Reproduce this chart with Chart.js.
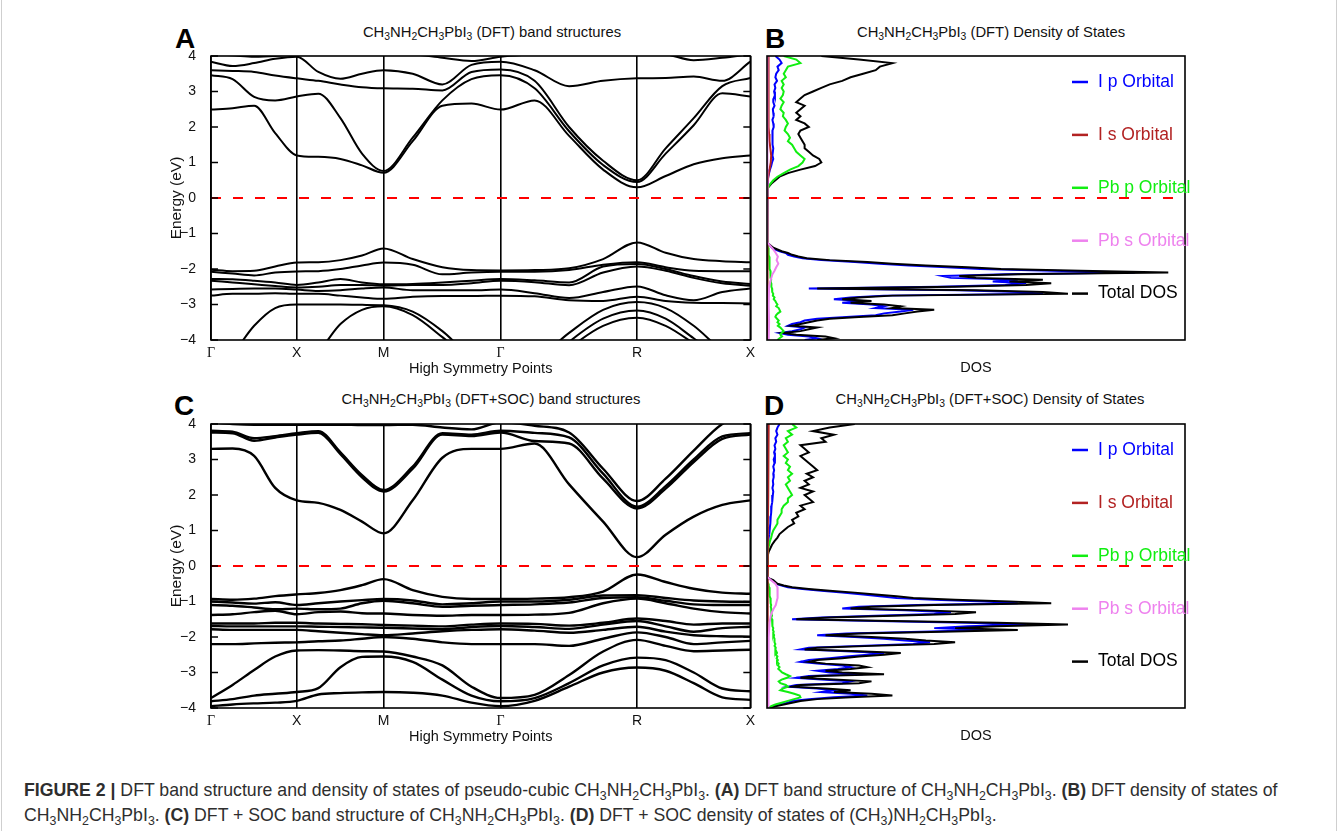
<!DOCTYPE html>
<html>
<head>
<meta charset="utf-8">
<script src="https://cdn.jsdelivr.net/npm/chart.js@4/dist/chart.umd.min.js"></script>
<style>
  body { margin: 0; background: #fff; font-family: "Liberation Sans", Arial, sans-serif; }
  #page { position: relative; width: 1344px; height: 831px; overflow: hidden; background: #fff; }
  #edgeL, #edgeR { position: absolute; top: 0; width: 1px; height: 831px; background: #cfcfcf; }
  canvas { position: absolute; }
  .ttl { position: absolute; font-size: 14.8px; line-height: 16px; color: #111; white-space: nowrap; transform: translateX(-50%); }
  .ttl sub, .cap sub { font-size: 70%; vertical-align: -0.3em; line-height: 0; }
  .lett { position: absolute; font-weight: bold; font-size: 28px; line-height: 28px; color: #000; }
  .cap { position: absolute; left: 24px; font-size: 17.7px; line-height: 20px; color: #2e2e2e; white-space: nowrap; }
</style>
</head>
<body>
<div id="page">
  <div id="edgeL" style="left:1px"></div>
  <div id="edgeR" style="left:1336px"></div>
  <div class="lett" style="left:175px;top:25px">A</div>
  <div class="lett" style="left:765px;top:25px">B</div>
  <div class="lett" style="left:174px;top:392px">C</div>
  <div class="lett" style="left:764px;top:392px">D</div>

  <div class="ttl" style="left:492px;top:24px">CH<sub>3</sub>NH<sub>2</sub>CH<sub>3</sub>PbI<sub>3</sub> (DFT) band structures</div>
  <div class="ttl" style="left:991px;top:24px">CH<sub>3</sub>NH<sub>2</sub>CH<sub>3</sub>PbI<sub>3</sub> (DFT) Density of States</div>
  <div class="ttl" style="left:491px;top:391px">CH<sub>3</sub>NH<sub>2</sub>CH<sub>3</sub>PbI<sub>3</sub> (DFT+SOC) band structures</div>
  <div class="ttl" style="left:990px;top:391px">CH<sub>3</sub>NH<sub>2</sub>CH<sub>3</sub>PbI<sub>3</sub> (DFT+SOC) Density of States</div>

  <canvas id="bandA" width="610" height="345" style="left:150px;top:40px"></canvas>
  <canvas id="dosB" width="430" height="345" style="left:760px;top:40px"></canvas>
  <canvas id="bandC" width="610" height="345" style="left:150px;top:408px"></canvas>
  <canvas id="dosD" width="430" height="345" style="left:760px;top:408px"></canvas>

  <div class="cap" style="top:780px"><b>FIGURE 2 |</b> DFT band structure and density of states of pseudo-cubic CH<sub>3</sub>NH<sub>2</sub>CH<sub>3</sub>PbI<sub>3</sub>. <b>(A)</b> DFT band structure of CH<sub>3</sub>NH<sub>2</sub>CH<sub>3</sub>PbI<sub>3</sub>. <b>(B)</b> DFT density of states of</div>
  <div class="cap" style="top:805px">CH<sub>3</sub>NH<sub>2</sub>CH<sub>3</sub>PbI<sub>3</sub>. <b>(C)</b> DFT + SOC band structure of CH<sub>3</sub>NH<sub>2</sub>CH<sub>3</sub>PbI<sub>3</sub>. <b>(D)</b> DFT + SOC density of states of (CH<sub>3</sub>)NH<sub>2</sub>CH<sub>3</sub>PbI<sub>3</sub>.</div>
</div>

<script>
// k-path sampling (fraction of the path) and high symmetry points
const kPath = [0, 0.040, 0.080, 0.119, 0.159, 0.199, 0.240, 0.280, 0.320, 0.374, 0.429, 0.483, 0.537, 0.600, 0.664, 0.727, 0.790, 0.843, 0.895, 0.948, 1.000];
const symPos = [0, 0.159, 0.320, 0.537, 0.790, 1.0];
const symLabels = ['Γ', 'X', 'M', 'Γ', 'R', 'X'];
const energyTicks = [-4, -3, -2, -1, 0, 1, 2, 3, 4];

// DFT bands (eV), panel A
const dftCB1 = [2.49, 2.53, 2.60, 1.83, 1.20, 1.16, 1.10, 0.92, 0.71, 1.60, 2.60, 2.66, 2.49, 2.75, 1.75, 0.80, 0.30, 0.62, 0.95, 1.12, 1.20];
const dftCB2 = [3.46, 3.35, 2.85, 2.75, 2.86, 2.94, 2.25, 1.25, 0.76, 1.70, 2.75, 3.35, 3.46, 3.09, 1.88, 0.93, 0.45, 1.25, 2.05, 2.95, 2.86];
const dftCB3 = [3.60, 3.58, 3.55, 3.45, 3.37, 3.30, 3.20, 3.12, 3.09, 3.08, 3.03, 3.55, 3.62, 3.30, 2.00, 1.05, 0.50, 1.40, 2.25, 3.15, 3.38];
const dftCB4 = [3.84, 3.72, 3.80, 3.92, 3.98, 3.55, 3.36, 3.50, 3.60, 3.50, 3.20, 3.75, 3.84, 3.60, 3.15, 3.30, 3.37, 3.38, 3.42, 3.30, 3.84];
const dftCB5 = [4.05, 4.02, 3.98, 4.00, 4.05, 4.10, 4.10, 4.10, 4.10, 4.05, 3.95, 3.86, 3.98, 4.05, 4.10, 4.10, 4.10, 4.05, 3.88, 3.95, 4.05];
const dftVB1 = [-2.02, -2.06, -2.05, -1.93, -1.82, -1.81, -1.75, -1.62, -1.42, -1.72, -1.95, -2.03, -2.04, -2.03, -1.98, -1.72, -1.25, -1.54, -1.72, -1.78, -1.81];
const dftVB2 = [-2.08, -2.13, -2.18, -2.10, -2.07, -2.06, -2.00, -1.90, -1.82, -1.88, -2.15, -2.10, -2.08, -2.08, -2.03, -1.88, -1.81, -1.95, -2.05, -2.06, -2.06];
const dftVB3 = [-2.28, -2.29, -2.33, -2.38, -2.45, -2.38, -2.28, -2.38, -2.43, -2.42, -2.38, -2.33, -2.28, -2.32, -2.38, -1.93, -1.86, -2.00, -2.20, -2.35, -2.42];
const dftVB4 = [-2.33, -2.38, -2.43, -2.48, -2.52, -2.50, -2.45, -2.45, -2.47, -2.45, -2.45, -2.40, -2.33, -2.37, -2.46, -2.10, -1.93, -2.05, -2.25, -2.40, -2.47];
const dftVB5 = [-2.58, -2.56, -2.55, -2.55, -2.58, -2.62, -2.60, -2.55, -2.52, -2.60, -2.60, -2.60, -2.58, -2.68, -2.82, -2.65, -2.49, -2.74, -2.88, -2.65, -2.55];
const dftVB6 = [-2.75, -2.70, -2.70, -2.68, -2.70, -2.70, -2.75, -2.80, -2.84, -2.78, -2.76, -2.76, -2.75, -2.77, -2.88, -2.90, -2.78, -2.90, -2.95, -2.96, -2.97];
const dftVB7 = [-5.00, -4.40, -3.60, -3.10, -3.00, -3.00, -3.00, -3.01, -3.02, -3.20, -3.75, -4.50, -5.00, -4.60, -3.80, -3.15, -2.93, -3.10, -3.60, -4.30, -4.80];
const dftVB8 = [-6.00, -5.60, -5.20, -4.80, -4.50, -4.30, -3.55, -3.15, -3.05, -3.30, -3.92, -4.60, -5.50, -4.90, -4.05, -3.40, -3.17, -3.40, -3.95, -4.50, -5.00];
const dftVB9 = [-6.50, -6.30, -6.00, -5.80, -5.60, -5.50, -5.20, -4.90, -4.80, -5.00, -5.30, -5.60, -6.00, -5.20, -4.25, -3.60, -3.37, -3.60, -4.10, -4.70, -5.20];

// DFT+SOC bands (eV), panel C
const socCB1 = [3.30, 3.31, 3.10, 2.20, 1.85, 1.78, 1.58, 1.25, 0.92, 1.85, 3.05, 3.30, 3.30, 3.45, 2.30, 1.25, 0.25, 0.88, 1.39, 1.72, 1.85];
const socCB2 = [3.76, 3.74, 3.53, 3.62, 3.70, 3.75, 3.15, 2.50, 2.10, 2.74, 3.70, 3.66, 3.76, 3.52, 3.45, 2.46, 1.62, 2.18, 2.93, 3.58, 3.70];
const socCB3 = [3.81, 3.78, 3.60, 3.66, 3.74, 3.80, 3.20, 2.56, 2.14, 2.80, 3.74, 3.70, 3.81, 3.75, 3.62, 2.60, 1.67, 2.25, 3.00, 3.65, 3.74];
const socCB4 = [4.05, 4.00, 3.98, 3.98, 3.98, 3.98, 3.98, 3.97, 3.97, 3.98, 3.90, 3.85, 4.05, 3.95, 3.76, 2.74, 1.83, 2.46, 3.25, 4.00, 4.30];
const socVB1 = [-0.93, -0.95, -0.92, -0.85, -0.80, -0.76, -0.68, -0.54, -0.37, -0.68, -0.87, -0.93, -0.93, -0.92, -0.88, -0.72, -0.24, -0.45, -0.64, -0.75, -0.78];
const socVB2 = [-1.00, -1.03, -1.06, -1.02, -1.10, -1.05, -1.00, -0.96, -0.93, -0.97, -1.08, -1.05, -1.00, -1.00, -0.95, -0.83, -0.82, -0.90, -0.97, -1.00, -1.01];
const socVB3 = [-1.10, -1.12, -1.17, -1.22, -1.20, -1.22, -1.20, -1.05, -0.98, -1.05, -1.15, -1.12, -1.10, -1.08, -1.03, -0.90, -0.88, -0.98, -1.08, -1.10, -1.10];
const socVB4 = [-1.38, -1.36, -1.30, -1.26, -1.36, -1.30, -1.28, -1.33, -1.34, -1.38, -1.40, -1.38, -1.38, -1.37, -1.32, -1.05, -0.92, -1.05, -1.20, -1.30, -1.34];
const socVB5 = [-1.62, -1.62, -1.62, -1.60, -1.60, -1.62, -1.63, -1.64, -1.66, -1.68, -1.70, -1.65, -1.62, -1.63, -1.68, -1.60, -1.48, -1.55, -1.65, -1.62, -1.62];
const socVB6 = [-1.69, -1.70, -1.70, -1.70, -1.70, -1.71, -1.72, -1.73, -1.74, -1.76, -1.78, -1.72, -1.69, -1.72, -1.77, -1.65, -1.55, -1.70, -1.85, -1.75, -1.71];
const socVB7 = [-1.78, -1.80, -1.80, -1.80, -1.80, -1.84, -1.88, -1.92, -1.95, -1.90, -1.84, -1.80, -1.78, -1.82, -1.88, -1.80, -1.71, -1.85, -1.95, -1.98, -1.99];
const socVB8 = [-2.20, -2.20, -2.18, -2.16, -2.15, -2.12, -2.10, -2.05, -2.00, -2.05, -2.15, -2.20, -2.20, -2.20, -2.25, -2.05, -1.87, -2.00, -2.20, -2.15, -2.11];
const socVB9 = [-3.72, -3.35, -2.93, -2.55, -2.38, -2.37, -2.38, -2.40, -2.41, -2.55, -2.80, -3.40, -3.72, -3.63, -3.07, -2.41, -2.08, -2.25, -2.40, -2.38, -2.36];
const socVB10 = [-3.81, -3.75, -3.65, -3.60, -3.55, -3.44, -2.85, -2.56, -2.55, -2.70, -3.20, -3.65, -3.81, -3.72, -3.30, -2.80, -2.58, -2.65, -3.00, -3.45, -3.53];
const socVB11 = [-3.95, -3.90, -3.87, -3.85, -3.80, -3.62, -3.58, -3.56, -3.55, -3.57, -3.65, -3.85, -3.95, -3.80, -3.40, -3.00, -2.86, -2.95, -3.30, -3.70, -3.77];

// DFT density of states, panel B (energy grid in eV, DOS in arbitrary units)
const dftDosE = [4.0, 3.9, 3.8, 3.7, 3.6, 3.5, 3.4, 3.3, 3.2, 3.1, 3.0, 2.9, 2.8, 2.7, 2.6, 2.5, 2.4, 2.3, 2.2, 2.1,
  2.0, 1.9, 1.8, 1.7, 1.6, 1.5, 1.4, 1.3, 1.2, 1.1, 1.0, 0.9, 0.8, 0.7, 0.6, 0.5, 0.4, 0.3, 0.2,
  -0.5,
  -1.20, -1.25, -1.30, -1.35, -1.40, -1.45, -1.50, -1.55, -1.60, -1.65, -1.70, -1.75, -1.80, -1.85, -1.90, -1.95,
  -2.00, -2.05, -2.10, -2.15, -2.20, -2.25, -2.30, -2.35, -2.40, -2.45, -2.50, -2.55, -2.60, -2.65, -2.70, -2.75,
  -2.80, -2.85, -2.90, -2.95, -3.00, -3.05, -3.10, -3.15, -3.20, -3.25, -3.30, -3.35, -3.40, -3.45, -3.50, -3.55,
  -3.60, -3.65, -3.70, -3.75, -3.80, -3.85, -3.90, -3.95, -4.00];
const dftTotal = [13, 22, 30, 27, 26, 23, 20, 18, 15, 13, 11, 9, 8, 7, 9, 8, 7, 8, 7, 9,
  10, 8, 7.5, 8, 8.5, 9, 9, 10, 11, 12.5, 13, 11.5, 8, 5, 3, 2, 1, 0.3, 0,
  0,
  0, 0.2, 0.5, 1, 1.5, 2.5, 3.5, 5, 6, 7.5, 9.5, 15, 24, 30, 38, 48,
  56, 75, 96, 60, 46, 50, 66, 58, 68, 62, 45, 12, 50, 66, 72, 30,
  22, 18, 25, 20, 28, 32, 30, 40, 36, 33, 30, 22, 15, 12, 10, 8,
  6, 12, 10, 8, 4, 7, 14, 16, 12];
const dftIp = [2, 3, 3.5, 2.5, 2.8, 2.2, 2, 2.4, 1.8, 2, 1.7, 1.9, 1.6, 1.5, 1.8, 1.4, 1.5, 1.6, 1.3, 1.5,
  1.6, 1.3, 1.4, 1.2, 1.4, 1.3, 1.5, 1.4, 1.3, 1.5, 1.2, 1, 0.7, 0.5, 0.3, 0.2, 0.1, 0, 0,
  0,
  0, 0.2, 0.4, 0.8, 1.2, 2, 3, 4.5, 5, 6.5, 8.5, 13, 21, 27, 34, 43,
  51, 68, 88, 57, 42, 44, 60, 54, 62, 57, 41, 10, 46, 60, 66, 28,
  20, 16, 23, 18, 25, 28, 26, 35, 32, 28, 26, 19, 12, 9, 8, 6,
  5, 9, 8, 6, 3, 5, 10, 12, 9];
const dftPbp = [4, 7, 8, 5, 4.5, 4, 4.5, 3.5, 4, 3.5, 4, 3.8, 3.2, 4, 3.5, 3.2, 4, 3.8, 4.5, 5,
  4.5, 4.2, 5, 5.5, 5, 6, 6.5, 7, 8, 9, 8.5, 7.5, 5.5, 4, 2.5, 1.5, 0.8, 0.3, 0,
  0,
  0, 0.1, 0.2, 0.2, 0.3, 0.3, 0.4, 0.4, 0.4, 0.5, 0.5, 0.5, 0.6, 0.6, 0.6, 0.7,
  0.7, 0.8, 0.8, 0.8, 0.9, 0.9, 1, 0.9, 1, 1.1, 1, 1.2, 1.3, 1.2, 1.5, 1.4,
  1.8, 1.6, 2, 2.2, 2.5, 2.2, 2.8, 3, 3.2, 2.6, 2.2, 2, 2.4, 2.8, 2.5, 3,
  2.6, 3.2, 3.6, 4, 3.5, 3.2, 3.6, 3, 2.5];
const dftIsE = [4.0, 3.5, 3.0, 2.5, 2.0, 1.8, 1.6, 1.4, 1.2, 1.0, 0.8, 0.6, 0.4, 0.2, -1.2, -2.0, -3.0, -4.0];
const dftIs = [0.3, 0.4, 0.3, 0.4, 0.4, 0.5, 0.6, 0.8, 1.0, 0.9, 0.6, 0.3, 0.1, 0, 0, 0.2, 0.2, 0.2];
const dftPbsE = [4.0, 0.2, -1.25, -1.35, -1.45, -1.55, -1.65, -1.75, -1.85, -1.95, -2.05, -2.15, -2.3, -2.5, -3.0, -3.5, -4.0];
const dftPbs = [0, 0, 0.2, 0.8, 1.5, 2.1, 2.6, 2.3, 2.7, 2.2, 1.8, 1.3, 0.9, 0.5, 0.4, 0.5, 0.4];

// DFT+SOC density of states, panel D
const socDosE = [4.0, 3.9, 3.8, 3.7, 3.6, 3.5, 3.4, 3.3, 3.2, 3.1, 3.0, 2.9, 2.8, 2.7, 2.6, 2.5, 2.4, 2.3, 2.2, 2.1,
  2.0, 1.9, 1.8, 1.7, 1.6, 1.5, 1.4, 1.3, 1.2, 1.1, 1.0, 0.9, 0.8, 0.7, 0.6, 0.5, 0.4, 0.3, 0.2, 0.1, 0.0,
  -0.30, -0.35, -0.40, -0.45, -0.50, -0.55, -0.60, -0.65, -0.70, -0.75, -0.80, -0.85, -0.90, -0.95, -1.00,
  -1.05, -1.10, -1.15, -1.20, -1.25, -1.30, -1.35, -1.40, -1.45, -1.50, -1.55, -1.60, -1.65, -1.70, -1.75,
  -1.80, -1.85, -1.90, -1.95, -2.00, -2.05, -2.10, -2.15, -2.20, -2.25, -2.30, -2.35, -2.40, -2.45, -2.50,
  -2.55, -2.60, -2.65, -2.70, -2.75, -2.80, -2.85, -2.90, -2.95, -3.00, -3.05, -3.10, -3.15, -3.20, -3.25,
  -3.30, -3.35, -3.40, -3.45, -3.50, -3.55, -3.60, -3.65, -3.70, -3.75, -3.80, -3.85, -3.90, -3.95, -4.00];
const socTotal = [21, 15, 11, 16, 13, 14, 8, 9, 10, 8, 9, 10, 11, 12, 9.5, 11, 9, 10, 8, 11,
  9, 10, 11, 8, 9, 7, 7.5, 6, 6.5, 5, 4, 3, 2.5, 1.8, 1.2, 0.8, 0.4, 0.2, 0.1, 0, 0,
  0, 0.5, 1.5, 2, 2.5, 4, 6, 10, 15, 21, 26, 31, 35, 45, 58,
  68, 40, 25, 20, 38, 50, 45, 30, 15, 7, 30, 55, 72, 55, 45,
  60, 42, 22, 14, 25, 33, 38, 45, 40, 25, 12, 9, 22, 32, 28,
  22, 18, 12, 10, 14, 22, 24, 20, 14, 18, 28, 12, 8, 16, 25,
  22, 8, 6, 14, 20, 16, 25, 30, 20, 12, 8, 6, 4, 2, 0.5];
const socIp = [3, 2.5, 2.2, 2.5, 2, 2.2, 1.8, 2, 1.7, 1.9, 1.6, 1.8, 1.5, 1.7, 1.5, 1.6, 1.4, 1.5, 1.3, 1.5,
  1.4, 1.3, 1.2, 1.1, 1, 1, 0.9, 0.8, 0.8, 0.7, 0.6, 0.5, 0.4, 0.3, 0.2, 0.2, 0.1, 0.1, 0, 0, 0,
  0, 0.4, 1.2, 1.7, 2.2, 3.5, 5, 8.5, 13, 18, 23, 27, 31, 40, 52,
  60, 36, 22, 18, 33, 44, 40, 26, 13, 6, 26, 48, 62, 48, 40,
  52, 37, 19, 12, 21, 28, 33, 39, 35, 22, 10, 8, 19, 28, 24,
  19, 15, 10, 8, 12, 18, 20, 17, 12, 15, 23, 10, 7, 13, 20,
  18, 7, 5, 12, 16, 13, 20, 24, 16, 10, 6, 5, 3, 1.5, 0.3];
const socPbp = [6, 7, 5, 6, 4.5, 5, 4, 4.5, 5, 4, 5, 4.5, 5.5, 5, 6, 5, 5.5, 4.5, 5, 5.5,
  6, 5, 5, 4, 3.5, 3.5, 3, 2.5, 2.5, 2, 1.5, 1.2, 1, 0.7, 0.5, 0.3, 0.2, 0.1, 0, 0, 0,
  0, 0, 0.1, 0.2, 0.3, 0.4, 0.5, 0.5, 0.6, 0.6, 0.7, 0.7, 0.8, 0.8, 0.9,
  0.9, 1, 0.9, 1, 1.1, 1, 1.1, 1.2, 1, 1.2, 1.3, 1.2, 1.4, 1.3, 1.5,
  1.4, 1.6, 1.5, 1.7, 1.6, 1.8, 1.7, 1.9, 2, 1.8, 2.1, 2, 2.2, 2.4, 2.1,
  2.5, 2.3, 2.6, 2.4, 2.8, 2.6, 3, 2.7, 3.2, 3.6, 4.5, 5.5, 4.8, 3.5, 2.8,
  3.2, 4.5, 5, 3.8, 3.2, 5, 6.5, 7.8, 8, 6.5, 5, 3.5, 2, 1, 0.3];
const socIsE = [4.0, 3.0, 2.0, 1.0, 0.5, 0.0, -0.5, -2.0, -4.0];
const socIs = [0.4, 0.3, 0.3, 0.2, 0.1, 0, 0.1, 0.2, 0.2];
const socPbsE = [4.0, -0.3, -0.4, -0.5, -0.6, -0.7, -0.8, -0.9, -1.0, -1.1, -1.2, -1.3, -1.4, -1.6, -2.0, -3.0, -4.0];
const socPbs = [0, 0, 1, 2, 2.5, 2.6, 2.4, 2.6, 2.3, 2.1, 1.6, 1.2, 0.9, 0.6, 0.4, 0.4, 0.3];

const dftBands = [dftCB1, dftCB2, dftCB3, dftCB4, dftCB5, dftVB1, dftVB2, dftVB3, dftVB4, dftVB5, dftVB6, dftVB7, dftVB8, dftVB9];
const socBands = [socCB1, socCB2, socCB3, socCB4, socVB1, socVB2, socVB3, socVB4, socVB5, socVB6, socVB7, socVB8, socVB9, socVB10, socVB11];

const FONT = '"Liberation Sans", Arial, sans-serif';
Chart.defaults.font.family = FONT;
Chart.defaults.color = '#111';

// box around the plot + inward tics on the energy axis
const frame = {
  id: 'frame',
  afterDatasetsDraw(chart, args, opts) {
    const { ctx, chartArea: a } = chart;
    ctx.save();
    ctx.strokeStyle = '#000';
    ctx.lineWidth = 1.6;
    ctx.strokeRect(a.left, a.top, a.right - a.left, a.bottom - a.top);
    if (opts.tics) {
      const y = chart.scales.y;
      energyTicks.forEach(v => {
        const py = y.getPixelForValue(v);
        ctx.beginPath();
        ctx.moveTo(a.left, py); ctx.lineTo(a.left + 7, py);
        ctx.moveTo(a.right, py); ctx.lineTo(a.right - 7, py);
        ctx.stroke();
      });
    }
    ctx.restore();
  }
};

// gnuplot-like key inside the DOS panels
const dosKey = {
  id: 'dosKey',
  afterDatasetsDraw(chart) {
    const { ctx, chartArea: a } = chart;
    ctx.save();
    ctx.font = '17.5px ' + FONT;
    ctx.textBaseline = 'middle';
    ctx.lineWidth = 2.5;
    let i = 0;
    chart.data.datasets.forEach(ds => {
      if (!ds.label) return;
      const y = a.top + 26 + i * 52.9;
      ctx.strokeStyle = ds.borderColor;
      ctx.beginPath();
      ctx.moveTo(a.right - 113, y);
      ctx.lineTo(a.right - 97, y);
      ctx.stroke();
      ctx.fillStyle = ds.borderColor;
      ctx.fillText(ds.label, a.right - 87, y);
      i++;
    });
    ctx.restore();
  }
};

const zeroLine = (x0, x1) => ({
  data: [{ x: x0, y: 0 }, { x: x1, y: 0 }],
  borderColor: '#ff0000', borderWidth: 2, borderDash: [10, 12], pointRadius: 0, order: 0
});

function bandChart(id, bands, lw) {
  const datasets = bands.map(b => ({
    data: b.map((e, i) => ({ x: kPath[i], y: e })),
    borderColor: '#000', borderWidth: lw, pointRadius: 0,
    cubicInterpolationMode: 'monotone', order: 1
  }));
  datasets.push(zeroLine(0, 1));
  new Chart(document.getElementById(id), {
    type: 'line',
    data: { datasets },
    options: {
      responsive: false, animation: false, events: [],
      layout: { padding: { top: 16, right: 9, left: 0, bottom: 0 } },
      plugins: { legend: { display: false }, tooltip: { enabled: false }, frame: { tics: true } },
      scales: {
        x: {
          type: 'linear', min: 0, max: 1,
          afterBuildTicks: s => { s.ticks = symPos.map(v => ({ value: v })); },
          afterFit: s => { s.height = 45; },
          ticks: {
            autoSkip: false, maxRotation: 0, padding: 5, color: '#111',
            callback: (v, i) => symLabels[i],
            font: c => ({ family: symLabels[c.index] === 'Γ' ? '"Liberation Serif", serif' : FONT, size: 14 })
          },
          grid: { color: '#000', lineWidth: 1.6, drawTicks: false },
          border: { display: false },
          title: { display: true, text: 'High Symmetry Points', font: { size: 14.5 }, padding: { bottom: 7 }, color: '#111' }
        },
        y: {
          min: -4, max: 4,
          afterBuildTicks: s => { s.ticks = energyTicks.map(v => ({ value: v })); },
          afterFit: s => { s.width = 61; },
          ticks: {
            padding: 7, font: { size: 14 }, color: '#111',
            callback: v => (v < 0 ? '\u2212' + Math.abs(v) : String(v))
          },
          grid: { display: false },
          border: { display: false },
          title: { display: true, text: 'Energy (eV)', font: { size: 15.5 }, padding: { top: 17 }, color: '#111' }
        }
      }
    },
    plugins: [frame]
  });
}

function curve(label, color, es, vals, order) {
  return {
    label, order,
    data: vals.map((v, i) => ({ x: v, y: es[i] })),
    borderColor: color, borderWidth: 2, pointRadius: 0, tension: 0
  };
}

function dosChart(id, series) {
  const datasets = series.slice();
  datasets.push(zeroLine(0, 100));
  new Chart(document.getElementById(id), {
    type: 'line',
    data: { datasets },
    options: {
      responsive: false, animation: false, events: [],
      indexAxis: 'y',
      layout: { padding: { top: 16, right: 5, left: 7, bottom: 0 } },
      plugins: { legend: { display: false }, tooltip: { enabled: false }, frame: { tics: false } },
      scales: {
        x: {
          type: 'linear', min: 0, max: 100,
          afterFit: s => { s.height = 45; },
          ticks: { display: false },
          grid: { display: false },
          border: { display: false },
          title: { display: true, text: 'DOS', font: { size: 14.5 }, padding: { bottom: 8 }, color: '#111' }
        },
        y: { type: 'linear', min: -4, max: 4, display: false }
      }
    },
    plugins: [frame, dosKey]
  });
}

bandChart('bandA', dftBands, 2);
bandChart('bandC', socBands, 2.4);

dosChart('dosB', [
  curve('I p Orbital', '#0000ff', dftDosE, dftIp, 5),
  curve('I s Orbital', '#b22222', dftIsE, dftIs, 2),
  curve('Pb p Orbital', '#11ee11', dftDosE, dftPbp, 3),
  curve('Pb s Orbital', '#ee82ee', dftPbsE, dftPbs, 1),
  curve('Total DOS', '#000000', dftDosE, dftTotal, 4)
]);
dosChart('dosD', [
  curve('I p Orbital', '#0000ff', socDosE, socIp, 5),
  curve('I s Orbital', '#b22222', socIsE, socIs, 2),
  curve('Pb p Orbital', '#11ee11', socDosE, socPbp, 3),
  curve('Pb s Orbital', '#ee82ee', socPbsE, socPbs, 1),
  curve('Total DOS', '#000000', socDosE, socTotal, 4)
]);
</script>
</body>
</html>
